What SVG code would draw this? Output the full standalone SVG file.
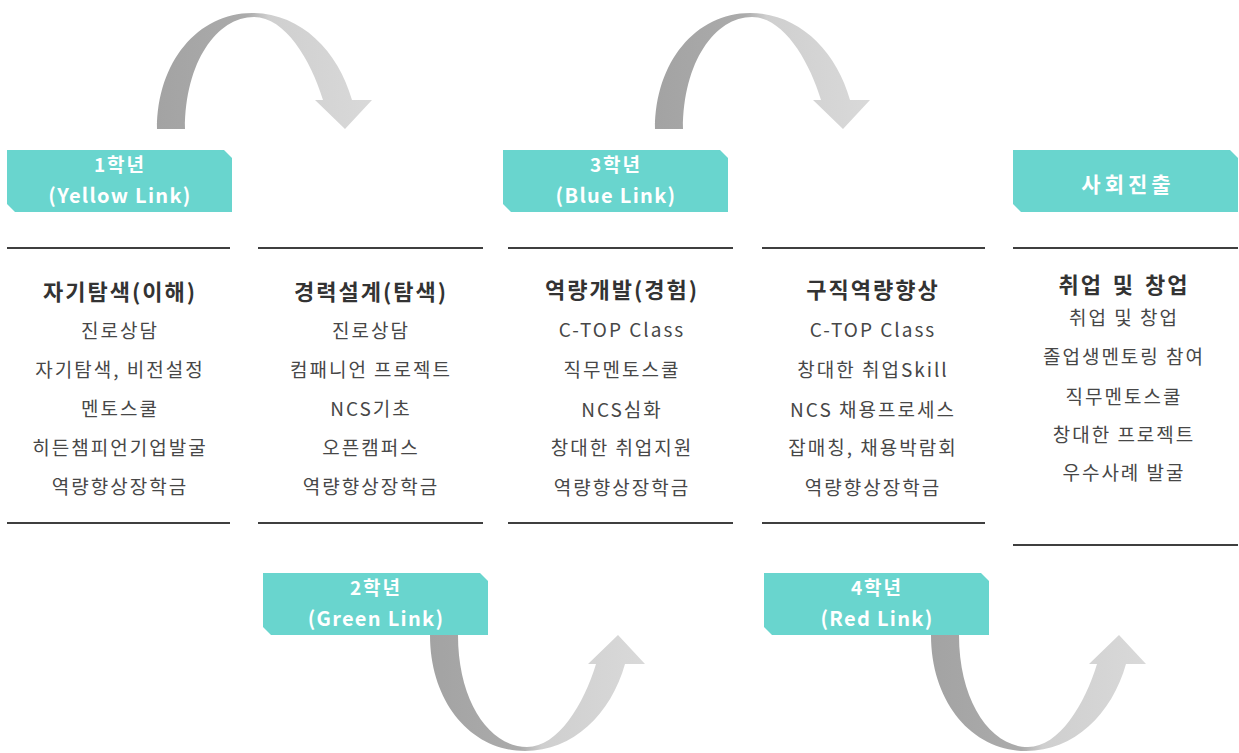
<svg xmlns="http://www.w3.org/2000/svg" width="1239" height="753" viewBox="0 0 1239 753">
<style>
.box{fill:#69d5ce}
.bt{font-family:"Noto Sans CJK KR","Noto Sans",sans-serif;font-weight:bold;fill:#ffffff;text-anchor:middle;font-size:20px;letter-spacing:1.3px}
.bk{font-family:"Noto Sans CJK KR","Noto Sans",sans-serif;font-weight:bold;fill:#ffffff;text-anchor:middle;font-size:19px;letter-spacing:2px}
.hd{font-family:"Noto Sans CJK KR","Noto Sans",sans-serif;font-weight:bold;fill:#333333;text-anchor:middle;font-size:22px;letter-spacing:2px}
.tx{font-family:"Noto Sans CJK KR","Noto Sans",sans-serif;fill:#474747;text-anchor:middle;font-size:19px;letter-spacing:2px}
.rule{stroke:#3f3f3f;stroke-width:2}
</style>
<defs>
<linearGradient id="g" x1="0" y1="0" x2="1" y2="0">
<stop offset="0" stop-color="#a3a3a3"/>
<stop offset="0.42" stop-color="#ababab"/>
<stop offset="0.52" stop-color="#cfcfcf"/>
<stop offset="1" stop-color="#d9d9d9"/>
</linearGradient>
<path id="arc" d="M157,129 C157,62 198,13 252,13 C300,13 338,50 352,100 L372,100 L345,129 L315,100 L323,100 C311,60 285,17 254,17 C217,17 185,62 185,129 Z" fill="url(#g)"/>
</defs>
<rect width="1239" height="753" fill="#ffffff"/>
<g id="connectors">
<use href="#arc"/>
<use href="#arc" transform="translate(498,0)"/>
<use href="#arc" transform="translate(273,764) scale(1,-1)"/>
<use href="#arc" transform="translate(774,764) scale(1,-1)"/>
</g>
<g id="year1">
<path class="box" d="M7,150 H224 L232,158 V212 H15 L7,204 Z"/>
<text class="bk" x="120" y="172">1학년</text>
<text class="bt" x="120" y="203">(Yellow Link)</text>
</g>
<g id="year2">
<path class="box" d="M263,573 H480 L488,581 V635 H271 L263,627 Z"/>
<text class="bk" x="376" y="595">2학년</text>
<text class="bt" x="376" y="626">(Green Link)</text>
</g>
<g id="year3">
<path class="box" d="M503,150 H720 L728,158 V212 H511 L503,204 Z"/>
<text class="bk" x="616" y="172">3학년</text>
<text class="bt" x="616" y="203">(Blue Link)</text>
</g>
<g id="year4">
<path class="box" d="M764,573 H981 L989,581 V635 H772 L764,627 Z"/>
<text class="bk" x="877" y="595">4학년</text>
<text class="bt" x="877" y="626">(Red Link)</text>
</g>
<g id="career">
<path class="box" d="M1013,150 H1230 L1238,158 V212 H1021 L1013,204 Z"/>
<text class="bk" x="1128" y="192" style="letter-spacing:4px;font-size:21px">사회진출</text>
</g>
<g id="col1">
<line class="rule" x1="7" y1="248" x2="230" y2="248"/>
<text class="hd" x="120" y="300">자기탐색(이해)</text>
<text class="tx" x="120" y="338">진로상담</text>
<text class="tx" x="120" y="377">자기탐색, 비전설정</text>
<text class="tx" x="120" y="416">멘토스쿨</text>
<text class="tx" x="120" y="455">히든챔피언기업발굴</text>
<text class="tx" x="120" y="494">역량향상장학금</text>
<line class="rule" x1="7" y1="523" x2="230" y2="523"/>
</g>
<g id="col2">
<line class="rule" x1="258" y1="248" x2="483" y2="248"/>
<text class="hd" x="371" y="300">경력설계(탐색)</text>
<text class="tx" x="371" y="338">진로상담</text>
<text class="tx" x="371" y="377">컴패니언 프로젝트</text>
<text class="tx" x="371" y="416">NCS기초</text>
<text class="tx" x="371" y="455">오픈캠퍼스</text>
<text class="tx" x="371" y="494">역량향상장학금</text>
<line class="rule" x1="258" y1="523" x2="483" y2="523"/>
</g>
<g id="col3">
<line class="rule" x1="508" y1="248" x2="733" y2="248"/>
<text class="hd" x="622" y="298">역량개발(경험)</text>
<text class="tx" x="622" y="337">C-TOP Class</text>
<text class="tx" x="622" y="377">직무멘토스쿨</text>
<text class="tx" x="622" y="417">NCS심화</text>
<text class="tx" x="622" y="455">창대한 취업지원</text>
<text class="tx" x="622" y="495">역량향상장학금</text>
<line class="rule" x1="508" y1="523" x2="733" y2="523"/>
</g>
<g id="col4">
<line class="rule" x1="762" y1="248" x2="985" y2="248"/>
<text class="hd" x="873" y="298">구직역량향상</text>
<text class="tx" x="873" y="337">C-TOP Class</text>
<text class="tx" x="873" y="377">창대한 취업Skill</text>
<text class="tx" x="873" y="417">NCS 채용프로세스</text>
<text class="tx" x="873" y="455">잡매칭, 채용박람회</text>
<text class="tx" x="873" y="495">역량향상장학금</text>
<line class="rule" x1="762" y1="523" x2="985" y2="523"/>
</g>
<g id="col5">
<line class="rule" x1="1013" y1="248" x2="1238" y2="248"/>
<text class="hd" x="1124" y="293" style="word-spacing:3px">취업 및 창업</text>
<text class="tx" x="1124" y="325">취업 및 창업</text>
<text class="tx" x="1124" y="364">졸업생멘토링 참여</text>
<text class="tx" x="1124" y="404">직무멘토스쿨</text>
<text class="tx" x="1124" y="442">창대한 프로젝트</text>
<text class="tx" x="1124" y="480">우수사례 발굴</text>
<line class="rule" x1="1013" y1="545" x2="1238" y2="545"/>
</g>
</svg>
